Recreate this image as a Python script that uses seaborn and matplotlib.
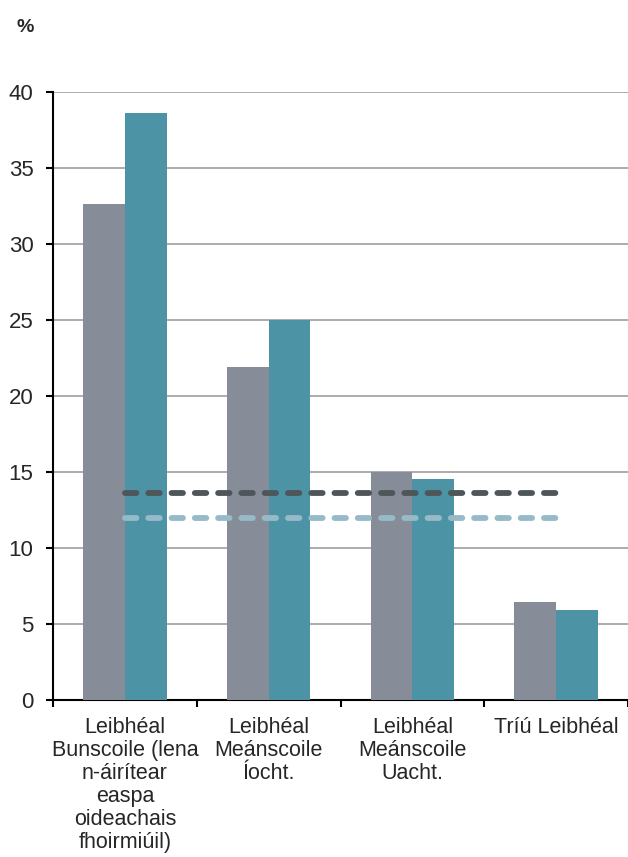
import matplotlib
matplotlib.use("Agg")
import matplotlib.pyplot as plt
import seaborn as sns
import pandas as pd
import numpy as np

categories = [
    "Leibhéal\nBunscoile (lena\nn-áirítear\neaspa\noideachais\nfhoirmiúil)",
    "Leibhéal\nMeánscoile\nÍocht.",
    "Leibhéal\nMeánscoile\nUacht.",
    "Tríú Leibhéal",
]
series_a = [32.6, 21.9, 15.0, 6.45]
series_b = [38.6, 25.0, 14.55, 5.9]
avg_a = 13.65
avg_b = 11.95
yticks = [0, 5, 10, 15, 20, 25, 30, 35, 40]

GREY = "#868D98"
TEAL = "#4C93A6"
DARK = "#4F5659"
LIGHT = "#96BAC8"

df = pd.DataFrame({
    "cat": categories * 2,
    "val": series_a + series_b,
    "series": ["A"] * 4 + ["B"] * 4,
})

sns.set_theme(style="white")
plt.rcParams["font.family"] = ["Liberation Sans", "DejaVu Sans"]

fig = plt.figure(figsize=(6.28, 8.57), dpi=100)
ax = fig.add_axes([0.0844, 0.1832, 0.9156, 0.7095])

sns.barplot(data=df, x="cat", y="val", hue="series", palette=[GREY, TEAL],
            width=0.58, gap=0, saturation=1, ax=ax, legend=False,
            edgecolor="none", zorder=3)

n = len(categories)
dash = (0, (1.96, 2.03))
ax.hlines(avg_a, 0, n - 1, colors=DARK, linestyles=[dash], lw=4.2, zorder=4)
ax.hlines(avg_b, 0, n - 1, colors=LIGHT, linestyles=[dash], lw=4.2, zorder=4)
for c in ax.collections:
    c.set_capstyle("round")

ax.set_ylim(0, 40)
ax.set_xlim(-0.5, n - 0.5)
ax.set_yticks(yticks)
ax.yaxis.grid(True, color="#A6A6A6", lw=1.3, zorder=0)
ax.set_axisbelow(True)
ax.set_xlabel("")
ax.set_ylabel("")

for s in ["top", "right"]:
    ax.spines[s].set_visible(False)
for s in ["left", "bottom"]:
    ax.spines[s].set_color("black")
    ax.spines[s].set_linewidth(1.5)

ax.tick_params(axis="y", left=True, length=5, width=1.5, color="black",
               labelsize=16, pad=9)
ax.tick_params(axis="x", which="major", length=0, labelsize=15.5, pad=12)
ax.set_xticks(np.arange(-0.5, n, 1.0), minor=True)
ax.tick_params(axis="x", which="minor", bottom=True, length=5, width=1.5,
               color="black")
for t in ax.get_xticklabels():
    t.set_linespacing(1.13)
    t.set_horizontalalignment("center")

fig.text(0.027, 0.968, "%", fontsize=14, fontweight="bold", ha="left", va="center")

fig.savefig("out.png", dpi=100)
